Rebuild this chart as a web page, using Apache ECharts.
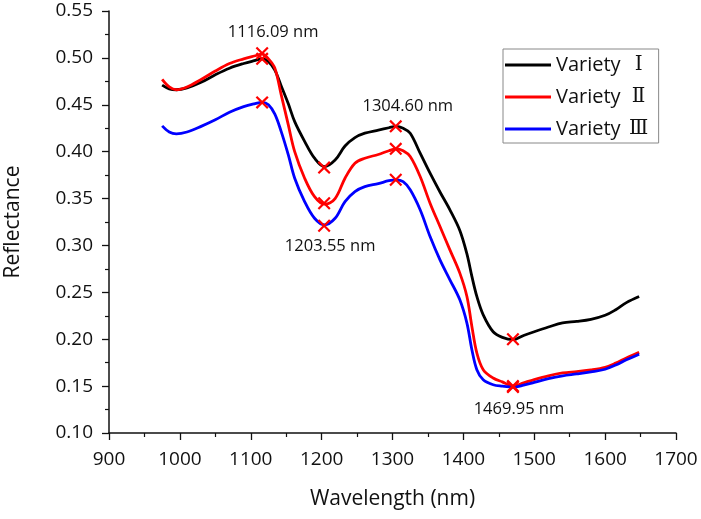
<!DOCTYPE html>
<html>
<head>
<meta charset="utf-8">
<script src="https://cdn.jsdelivr.net/npm/echarts@6/dist/echarts.min.js"></script>
<style>
html,body{margin:0;padding:0;background:#fff;}
#chart{width:701px;height:519px;}
</style>
</head>
<body>
<div id="chart"></div>
<script>
var wavelengths = [975, 985, 995, 1010, 1030, 1050, 1070, 1090, 1105, 1116, 1125, 1134, 1143, 1153, 1162, 1176, 1190, 1204, 1219, 1233, 1247, 1261, 1280, 1295, 1305, 1315, 1325, 1339, 1353, 1367, 1381, 1395, 1405, 1412, 1419, 1428, 1442, 1455, 1470, 1485, 1500, 1520, 1540, 1560, 1580, 1600, 1615, 1630, 1648];
var variety1 = [0.471, 0.467, 0.466, 0.468, 0.474, 0.482, 0.489, 0.494, 0.497, 0.499, 0.496, 0.487, 0.470, 0.451, 0.432, 0.411, 0.393, 0.384, 0.391, 0.406, 0.415, 0.4197, 0.423, 0.4255, 0.427, 0.425, 0.4197, 0.3984, 0.377, 0.357, 0.338, 0.316, 0.291, 0.267, 0.2456, 0.226, 0.208, 0.202, 0.1995, 0.204, 0.208, 0.213, 0.2175, 0.219, 0.2212, 0.2255, 0.2315, 0.239, 0.2455];
var variety2 = [0.477, 0.469, 0.466, 0.469, 0.477, 0.486, 0.494, 0.499, 0.502, 0.504, 0.499, 0.489, 0.4605, 0.4285, 0.400, 0.3717, 0.352, 0.344, 0.350, 0.3717, 0.3877, 0.393, 0.397, 0.401, 0.403, 0.401, 0.3948, 0.3735, 0.3451, 0.3202, 0.2953, 0.2705, 0.2456, 0.2136, 0.1853, 0.1675, 0.1586, 0.1545, 0.150, 0.1535, 0.157, 0.161, 0.164, 0.1655, 0.1672, 0.170, 0.1745, 0.180, 0.186];
var variety3 = [0.4275, 0.421, 0.419, 0.421, 0.427, 0.434, 0.442, 0.448, 0.451, 0.4525, 0.450, 0.440, 0.4214, 0.3966, 0.3717, 0.3468, 0.329, 0.322, 0.329, 0.3468, 0.3575, 0.3628, 0.366, 0.369, 0.370, 0.368, 0.3593, 0.338, 0.3095, 0.2847, 0.2634, 0.242, 0.2172, 0.1888, 0.1675, 0.1568, 0.1515, 0.150, 0.149, 0.151, 0.154, 0.158, 0.161, 0.163, 0.1652, 0.168, 0.1725, 0.178, 0.184];
var seriesNames = ['Variety Ⅰ', 'Variety Ⅱ', 'Variety Ⅲ'];
var seriesColors = ['#000000', '#ff0000', '#0000ff'];

var markWavelengths = [1116.09, 1203.55, 1304.60, 1469.95];
var markVariety1 = [0.499, 0.383, 0.427, 0.200];
var markVariety2 = [0.505, 0.345, 0.403, 0.150];
var markVariety3 = [0.4525, 0.321, 0.370, 0.149];
var markLabels = ['1116.09 nm', '1203.55 nm', '1304.60 nm', '1469.95 nm'];

var xTicks = [900, 1000, 1100, 1200, 1300, 1400, 1500, 1600, 1700];
var yTicks = ['0.10', '0.15', '0.20', '0.25', '0.30', '0.35', '0.40', '0.45', '0.50', '0.55'];

function zip(xs, ys) { return xs.map(function (x, i) { return [x, ys[i]]; }); }

var FONT = 'Open Sans';
var chart = echarts.init(document.getElementById('chart'), null, {renderer: 'canvas'});

var labelSpec = [
  {src: markVariety2, offset: [11, -21]},
  {src: markVariety3, offset: [6, 21]},
  {src: markVariety1, offset: [12, -20]},
  {src: markVariety3, offset: [6, 22]}
];
var markerData = [];
[markVariety1, markVariety2, markVariety3].forEach(function (arr) {
  arr.forEach(function (v, i) { markerData.push({value: [markWavelengths[i], v]}); });
});
var labelData = markLabels.map(function (t, i) {
  return {
    value: [markWavelengths[i], labelSpec[i].src[i]],
    label: {show: true, formatter: t, position: 'inside', offset: labelSpec[i].offset,
      color: '#111', fontFamily: FONT, fontSize: 16.5, textBorderWidth: 0, opacity: 1}
  };
});

var xSymbol = 'path://M0,1.2 L1.2,0 L5,3.8 L8.8,0 L10,1.2 L6.2,5 L10,8.8 L8.8,10 L5,6.2 L1.2,10 L0,8.8 L3.8,5 Z';

var lineSeries = [variety1, variety2, variety3].map(function (vals, k) {
  return {
    name: seriesNames[k],
    type: 'line',
    data: zip(wavelengths, vals),
    smooth: 0.35,
    symbol: 'none',
    lineStyle: {color: seriesColors[k], width: 2.8},
    itemStyle: {color: seriesColors[k]},
    z: 2 + k
  };
});

chart.setOption({
  animation: false,
  backgroundColor: '#fff',
  grid: {left: 109, right: 25, top: 11, bottom: 86, containLabel: false, outerBoundsMode: 'none'},
  legend: {
    left: 503, top: 49,
    orient: 'vertical',
    data: seriesNames,
    icon: 'rect',
    itemWidth: 46, itemHeight: 3,
    itemGap: 12,
    padding: [6, 2, 4, 2],
    borderColor: '#888', borderWidth: 1,
    backgroundColor: '#fff',
    formatter: function (name) {
      var parts = name.split(' ');
      return parts[0] + '{r|' + parts[1] + '}';
    },
    textStyle: {
      fontFamily: FONT, fontSize: 20, color: '#111', lineHeight: 20,
      rich: {r: {fontFamily: 'DejaVu Serif', fontSize: 20, width: 36, align: 'center', lineHeight: 20, color: '#111'}}
    }
  },
  xAxis: {
    type: 'value', min: 900, max: 1700, interval: 100,
    name: 'Wavelength (nm)', nameLocation: 'middle', nameGap: 56,
    nameTextStyle: {fontFamily: FONT, fontSize: 21, color: '#111'},
    axisLine: {show: true, onZero: false, lineStyle: {color: '#111', width: 1.5}},
    axisTick: {show: true, inside: false, length: 7, lineStyle: {color: '#111', width: 1.3}},
    minorTick: {show: true, splitNumber: 2, length: 4, lineStyle: {color: '#111', width: 1.2}},
    splitLine: {show: false},
    axisLabel: {fontFamily: FONT, fontSize: 19, color: '#111', margin: 17,
      formatter: function (v) { return xTicks.indexOf(v) >= 0 ? String(v) : ''; }}
  },
  yAxis: {
    type: 'value', min: 0.10, max: 0.55, interval: 0.05,
    name: 'Reflectance', nameLocation: 'middle', nameGap: 85, nameRotate: 90,
    nameTextStyle: {fontFamily: FONT, fontSize: 21, color: '#111'},
    axisLine: {show: true, onZero: false, lineStyle: {color: '#111', width: 1.5}},
    axisTick: {show: true, inside: false, length: 7, lineStyle: {color: '#111', width: 1.3}},
    minorTick: {show: true, splitNumber: 2, length: 4, lineStyle: {color: '#111', width: 1.2}},
    splitLine: {show: false},
    axisLabel: {fontFamily: FONT, fontSize: 19, color: '#111', margin: 16,
      formatter: function (v) {
        var s = v.toFixed(2);
        return yTicks.indexOf(s) >= 0 ? s : '';
      }}
  },
  series: lineSeries.concat([
    {
      name: 'markers', type: 'scatter', data: markerData,
      symbol: xSymbol, symbolSize: 13,
      itemStyle: {color: '#ff0000', opacity: 1}, z: 10, silent: true
    },
    {
      name: 'annotations', type: 'scatter', data: labelData,
      symbolSize: 0, z: 11, silent: true,
      itemStyle: {opacity: 1}
    }
  ])
});
</script>
</body>
</html>
